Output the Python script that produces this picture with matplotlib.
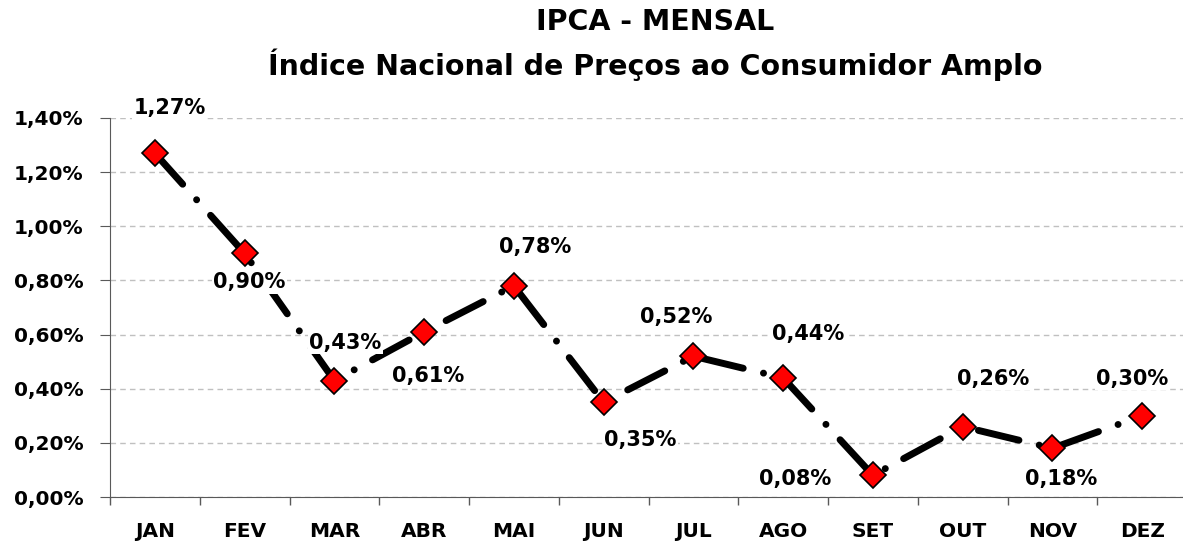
import matplotlib
matplotlib.use("Agg")
import matplotlib.pyplot as plt
from matplotlib.ticker import FuncFormatter, MultipleLocator, FixedLocator

months = ["JAN", "FEV", "MAR", "ABR", "MAI", "JUN", "JUL", "AGO", "SET", "OUT", "NOV", "DEZ"]
values = [1.27, 0.90, 0.43, 0.61, 0.78, 0.35, 0.52, 0.44, 0.08, 0.26, 0.18, 0.30]
labels = ["1,27%", "0,90%", "0,43%", "0,61%", "0,78%", "0,35%", "0,52%", "0,44%", "0,08%", "0,26%", "0,18%", "0,30%"]
label_offsets = [(15, 45), (5, -29), (11, 38), (4, -44), (21, 39), (37, -38),
                 (-17, 39), (25, 44), (-78, -4), (31, 48), (9, -31), (-10, 37)]

plt.rcParams['font.family'] = ['DejaVu Sans']
plt.rcParams['font.weight'] = 'bold'

fig = plt.figure(figsize=(11.83, 5.43), dpi=100)
ax = fig.add_axes([110 / 1183, 1 - 497 / 543, 1077 / 1183, (497 - 118) / 543])

x = list(range(len(months)))
line, = ax.plot(x, values, color='black', lw=5, dash_capstyle='round',
                marker='D', markersize=13, markerfacecolor='#ff0000',
                markeredgecolor='black', markeredgewidth=1.2, zorder=3)
line.set_dashes((6.0, 3.0, 0.01, 3.0))

ax.set_xlim(-0.5, 11.5)
ax.set_ylim(0, 1.4)
ax.yaxis.set_major_locator(MultipleLocator(0.2))
ax.yaxis.set_major_formatter(FuncFormatter(lambda v, p: f"{v:.2f}%".replace('.', ',')))
ax.set_xticks(x)
ax.set_xticklabels(months)
ax.xaxis.set_minor_locator(FixedLocator([i + 0.5 for i in range(-1, 12)]))
ax.tick_params(axis='x', which='major', length=0, pad=18, labelsize=14.5)
ax.tick_params(axis='x', which='minor', length=6, direction='out', color='#595959', width=1)
ax.tick_params(axis='y', length=7, direction='out', color='#595959', labelsize=14.5, pad=12)
for t in ax.get_xticklabels() + ax.get_yticklabels():
    t.set_fontweight('bold')

ax.grid(axis='y', linestyle=(0, (4, 3)), color='#c0c0c0', lw=1)
ax.set_axisbelow(True)
for s in ['top', 'right']:
    ax.spines[s].set_visible(False)
ax.spines['left'].set_color('#595959')
ax.spines['bottom'].set_color('#595959')

for xi, v, lab, off in zip(x, values, labels, label_offsets):
    ax.annotate(lab, (xi, v), xytext=off, textcoords='offset pixels',
                ha='center', va='center', fontsize=15, fontweight='bold',
                bbox=dict(facecolor='white', edgecolor='none', pad=1),
                zorder=4, annotation_clip=False)

fig.text(655 / 1183, 1 - 22 / 543, "IPCA - MENSAL", ha='center', va='center',
         fontsize=20.5, fontweight='bold')
fig.text(655 / 1183, 1 - 65 / 543, "Índice Nacional de Preços ao Consumidor Amplo",
         ha='center', va='center', fontsize=20.5, fontweight='bold')

fig.savefig("out.png", dpi=100)
